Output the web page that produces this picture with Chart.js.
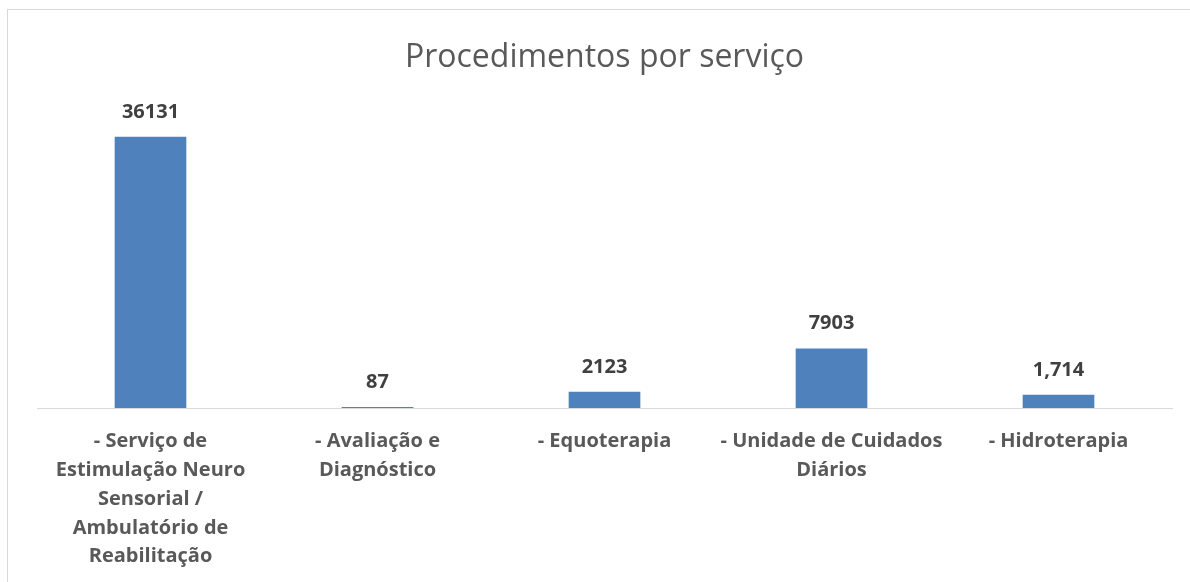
<!DOCTYPE html>
<html>
<head>
<meta charset="utf-8">
<script src="https://cdn.jsdelivr.net/npm/chart.js@4"></script>
<style>
    html, body { margin: 0; padding: 0; width: 1190px; height: 582px; overflow: hidden; background: #fff; }
    #cadre { position: absolute; left: 7px; top: 9px; width: 1300px; height: 700px; border: 1px solid #d9d9d9; }
    #wrap { position: absolute; left: 0; top: 0; width: 1190px; height: 582px; }
</style>
</head>
<body>
<div id="cadre"></div>
<div id="wrap"><canvas id="graphique"></canvas></div>
<script>
// données
const categories = [
    ['- Serviço de', 'Estimulação Neuro', 'Sensorial /', 'Ambulatório de', 'Reabilitação'],
    ['- Avaliação e', 'Diagnóstico'],
    ['- Equoterapia'],
    ['- Unidade de Cuidados', 'Diários'],
    ['- Hidroterapia']
];
const procedimentos = [36131, 87, 2123, 7903, 1714];
const etiquettes = ['36131', '87', '2123', '7903', '1,714'];
const yMax = 40000;

// étiquettes de valeur au-dessus des barres
const etiquettesPlugin = {
    id: 'etiquettes',
    afterDatasetsDraw(chart) {
        const ctx = chart.ctx;
        const meta = chart.getDatasetMeta(0);
        ctx.save();
        ctx.font = 'bold 20px "Open Sans", sans-serif';
        ctx.fillStyle = '#404040';
        ctx.textAlign = 'center';
        ctx.textBaseline = 'middle';
        meta.data.forEach((bar, i) => {
            ctx.fillText(etiquettes[i], bar.x, bar.y - 25);
        });
        ctx.restore();
    }
};

const ctx = document.getElementById('graphique').getContext('2d');
new Chart(ctx, {
    type: 'bar',
    data: {
        labels: categories,
        datasets: [{
            data: procedimentos,
            backgroundColor: '#4f81bd',
            borderWidth: 0,
            barThickness: 71
        }]
    },
    options: {
        responsive: true,
        maintainAspectRatio: false,
        animation: false,
        layout: { padding: { left: 37, right: 18, top: 0, bottom: 0 } },
        scales: {
            x: {
                grid: { display: false },
                border: { display: true, color: '#d9d9d9', width: 1 },
                ticks: {
                    autoSkip: false,
                    maxRotation: 0,
                    padding: 11,
                    color: '#595959',
                    font: { family: '"Open Sans", sans-serif', size: 20, weight: 'bold', lineHeight: 1.44 }
                },
                afterFit(scale) { scale.height = 174; }
            },
            y: {
                display: false,
                min: 0,
                max: yMax
            }
        },
        plugins: {
            legend: { display: false },
            tooltip: { enabled: false },
            title: {
                display: true,
                text: 'Procedimentos por serviço',
                color: '#595959',
                font: { family: '"Open Sans", sans-serif', size: 32, weight: '400', lineHeight: 1.2 },
                padding: { top: 39, bottom: 30.6 }
            }
        }
    },
    plugins: [etiquettesPlugin]
});
</script>
</body>
</html>
